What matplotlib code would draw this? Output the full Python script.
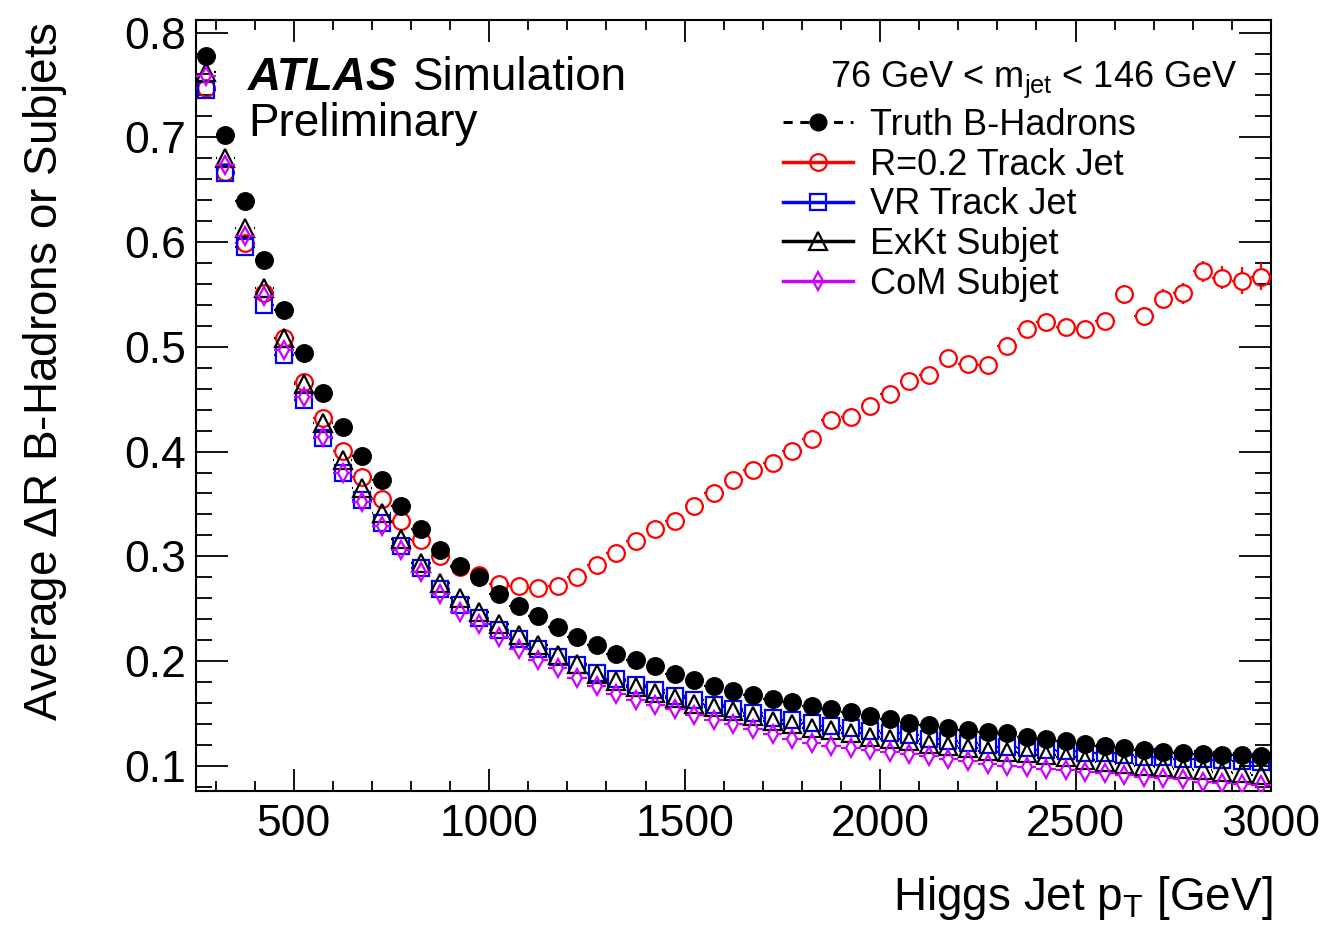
import matplotlib.pyplot as plt
import numpy as np
from matplotlib.lines import Line2D
from matplotlib.ticker import MultipleLocator

plt.rcParams['font.family'] = ['Liberation Sans', 'DejaVu Sans']
plt.rcParams['mathtext.fontset'] = 'custom'
plt.rcParams['mathtext.rm'] = 'Liberation Sans'
plt.rcParams['mathtext.it'] = 'Liberation Sans:italic'

# bin centres of the Higgs jet pT histogram (50 GeV bins, 250-3000 GeV)
pt = np.arange(275, 3000, 50)
half_bin = 25

truth = [0.778, 0.702, 0.639, 0.583, 0.535, 0.494, 0.456, 0.423, 0.396, 0.373,
         0.348, 0.326, 0.306, 0.291, 0.280, 0.264, 0.253, 0.243, 0.233, 0.223,
         0.215, 0.207, 0.201, 0.195, 0.188, 0.182, 0.176, 0.171, 0.168, 0.164,
         0.161, 0.157, 0.154, 0.151, 0.148, 0.145, 0.141, 0.139, 0.136, 0.134,
         0.132, 0.131, 0.128, 0.126, 0.124, 0.121, 0.119, 0.117, 0.115, 0.113,
         0.112, 0.111, 0.110, 0.110, 0.109]

r02 = [0.747, 0.667, 0.599, 0.551, 0.508, 0.466, 0.432, 0.401, 0.376, 0.355,
       0.334, 0.316, 0.300, 0.290, 0.282, 0.274, 0.272, 0.270, 0.272, 0.280,
       0.292, 0.303, 0.315, 0.326, 0.334, 0.348, 0.360, 0.373, 0.382, 0.389,
       0.401, 0.412, 0.430, 0.433, 0.444, 0.455, 0.467, 0.473, 0.489, 0.484,
       0.483, 0.501, 0.517, 0.524, 0.519, 0.517, 0.525, 0.550, 0.529, 0.546,
       0.551, 0.572, 0.566, 0.563, 0.567]

r02_err = [0.001, 0.001, 0.001, 0.001, 0.001, 0.001, 0.001, 0.001, 0.001, 0.001,
           0.001, 0.001, 0.001, 0.001, 0.002, 0.002, 0.002, 0.002, 0.002, 0.002,
           0.002, 0.002, 0.003, 0.003, 0.003, 0.003, 0.003, 0.003, 0.004, 0.004,
           0.004, 0.004, 0.005, 0.005, 0.005, 0.005, 0.005, 0.006, 0.006, 0.006,
           0.006, 0.006, 0.007, 0.007, 0.007, 0.007, 0.008, 0.009, 0.009, 0.009,
           0.010, 0.010, 0.011, 0.013, 0.013]

vr = [0.745, 0.666, 0.595, 0.540, 0.492, 0.449, 0.413, 0.380, 0.354, 0.332,
      0.310, 0.289, 0.269, 0.254, 0.241, 0.230, 0.221, 0.212, 0.204, 0.196,
      0.189, 0.183, 0.177, 0.172, 0.167, 0.163, 0.158, 0.154, 0.150, 0.146,
      0.144, 0.141, 0.138, 0.136, 0.133, 0.131, 0.129, 0.126, 0.124, 0.122,
      0.120, 0.118, 0.117, 0.115, 0.114, 0.112, 0.112, 0.110, 0.108, 0.108,
      0.107, 0.107, 0.106, 0.105, 0.104]

exkt = [0.762, 0.680, 0.613, 0.556, 0.508, 0.465, 0.427, 0.392, 0.365, 0.341,
        0.317, 0.294, 0.275, 0.260, 0.247, 0.235, 0.225, 0.215, 0.206, 0.197,
        0.188, 0.181, 0.175, 0.170, 0.165, 0.159, 0.156, 0.152, 0.148, 0.143,
        0.140, 0.136, 0.134, 0.131, 0.128, 0.126, 0.124, 0.121, 0.119, 0.117,
        0.114, 0.113, 0.112, 0.110, 0.108, 0.106, 0.104, 0.102, 0.100, 0.099,
        0.097, 0.096, 0.094, 0.093, 0.091]

com = [0.759, 0.674, 0.606, 0.549, 0.497, 0.452, 0.414, 0.380, 0.352, 0.329,
       0.306, 0.285, 0.264, 0.247, 0.235, 0.223, 0.212, 0.201, 0.193, 0.184,
       0.176, 0.169, 0.163, 0.158, 0.154, 0.149, 0.144, 0.140, 0.135, 0.130,
       0.126, 0.122, 0.119, 0.117, 0.115, 0.113, 0.111, 0.109, 0.107, 0.105,
       0.102, 0.100, 0.099, 0.097, 0.096, 0.094, 0.093, 0.091, 0.089, 0.088,
       0.087, 0.085, 0.084, 0.083, 0.082]

labels = ['Truth B-Hadrons', 'R=0.2 Track Jet', 'VR Track Jet',
          'ExKt Subjet', 'CoM Subjet']
colors = ['black', '#ff0000', '#0000ff', 'black', '#cc00ff']
truth_dash = (0, (3, 2.5))

W, H = 1329, 927
fig = plt.figure(figsize=(W / 100, H / 100), dpi=100)
ax = fig.add_axes([196 / W, 1 - 791 / H, (1271 - 196) / W, (791 - 20) / H])
ax.set_xlim(250, 3000)
ax.set_ylim(0.076, 0.812)

# pixels per data unit, used to keep error bars outside the markers (ROOT style)
px_x = ax.bbox.width / (3000 - 250)
px_y = ax.bbox.height / (0.812 - 0.076)
pt2px = fig.dpi / 72


def draw(y, color, marker, ms, ls, filled, hw, hh, yerr=None, z=3):
    x = pt
    y = np.asarray(y)
    rx = hw * ms * pt2px / px_x
    ry = hh * ms * pt2px / px_y
    lw = 1.6
    ax.hlines(y, x - half_bin, x - rx, colors=color, linestyles=ls, lw=lw, zorder=z)
    ax.hlines(y, x + rx, x + half_bin, colors=color, linestyles=ls, lw=lw, zorder=z)
    if yerr is not None:
        e = np.asarray(yerr)
        big = e > ry
        ax.vlines(x[big], y[big] + ry, y[big] + e[big], colors=color, lw=lw, zorder=z)
        ax.vlines(x[big], y[big] - e[big], y[big] - ry, colors=color, lw=lw, zorder=z)
    ax.plot(x, y, ls='none', marker=marker, ms=ms, mew=1.6, mec=color,
            mfc=color if filled else 'none', zorder=z + 0.1)


draw(r02, colors[1], 'o', 12, 'solid', False, 0.5, 0.5, yerr=r02_err, z=3)
draw(vr, colors[2], 's', 11.5, 'solid', False, 0.5, 0.5, z=4)
draw(exkt, colors[3], '^', 12.5, 'solid', False, 0.5, 0.5, z=5)
draw(com, colors[4], 'd', 9, 'solid', False, 0.42, 0.7, z=6)
draw(truth, colors[0], 'o', 12, truth_dash, True, 0.5, 0.5, z=7)

# axes styling
for s in ax.spines.values():
    s.set_linewidth(1.5)
ax.xaxis.set_major_locator(MultipleLocator(500))
ax.xaxis.set_minor_locator(MultipleLocator(100))
ax.yaxis.set_major_locator(MultipleLocator(0.1))
ax.yaxis.set_minor_locator(MultipleLocator(0.02))
ax.tick_params(which='both', direction='in', top=True, right=True, width=1.3,
               labelsize=32)
ax.tick_params(axis='x', which='major', length=16, pad=9)
ax.tick_params(axis='x', which='minor', length=7.5)
ax.tick_params(axis='y', which='major', length=23, pad=7)
ax.tick_params(axis='y', which='minor', length=11.5)
ax.set_yticks(np.arange(0.1, 0.81, 0.1))
ax.set_yticklabels([f'{v:.1f}' for v in np.arange(0.1, 0.81, 0.1)])
ax.set_xticks(np.arange(500, 3001, 500))
ax.set_xticklabels([str(v) for v in range(500, 3001, 500)])

fig.text(1272 / W, 1 - 910 / H, r'Higgs Jet p$_{\mathrm{T}}$ [GeV]', fontsize=33,
         ha='right', va='baseline')
fig.text(21 / W, 1 - 22 / H, r'Average $\Delta$R B-Hadrons or Subjets', fontsize=33,
         rotation=90, ha='right', va='top', rotation_mode='anchor')

fig.text(248 / W, 1 - 90 / H, 'ATLAS', fontsize=33, fontweight='bold',
         fontstyle='italic', va='baseline')
fig.text(413 / W, 1 - 90 / H, 'Simulation', fontsize=33, va='baseline')
fig.text(248 / W, 1 - 136 / H, 'Preliminary', fontsize=33, va='baseline')
fig.text(1237 / W, 1 - 87 / H, r'76 GeV < m$_{\mathrm{jet}}$ < 146 GeV', fontsize=26,
         ha='right', va='baseline')

handles = [
    Line2D([], [], color='black', ls=truth_dash, lw=2.2, marker='o', ms=12),
    Line2D([], [], color=colors[1], lw=2.5, marker='o', ms=12, mfc='none', mew=1.6),
    Line2D([], [], color=colors[2], lw=2.5, marker='s', ms=11.5, mfc='none', mew=1.6),
    Line2D([], [], color=colors[3], lw=2.5, marker='^', ms=12.5, mfc='none', mew=1.6),
    Line2D([], [], color=colors[4], lw=2.5, marker='d', ms=9, mfc='none', mew=1.6),
]
fig.legend(handles, labels, loc='upper left', bbox_to_anchor=(783 / W, 1 - 108 / H),
           frameon=False, fontsize=26, handlelength=1.95, handletextpad=0.45,
           labelspacing=0.13, borderpad=0, borderaxespad=0)

fig.savefig('out.png', dpi=100)
